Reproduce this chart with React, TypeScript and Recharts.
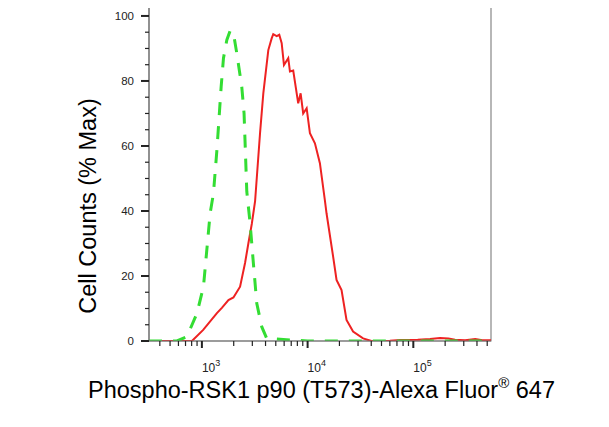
import { ComposedChart, Line, XAxis, YAxis, ReferenceArea, Label } from 'recharts';

// Flow histogram: isotype / unstained control (green dashed) vs stained sample (red)
const xDomain = [316, 543000];
const yDomain = [0, 104.6];

const controlX = [316, 581, 721, 897, 1035, 1197, 1286, 1387, 1521, 1600, 1722, 1851, 1988, 2139, 2384, 2506, 2659, 2858, 3070, 3304, 3681, 4102, 10000, 100000, 543000];
const controlY = [0, 0, 1.3, 8.5, 16.7, 39.3, 45.4, 58.8, 78.2, 87, 92.6, 95.5, 94.7, 88.5, 78.2, 70, 46, 36.2, 23.9, 11.6, 4.4, 0.8, 0, 0, 0];

const sampleX = [316, 805, 1029, 1387, 1545, 1783, 1988, 2297, 2560, 2751, 2964, 3186, 3548, 3811, 4249, 4571, 4732, 5101, 5395, 5686, 5975, 6561, 6806, 7311, 8150, 8590, 9085, 9795, 10520, 11730, 13070, 14550, 15100, 17450, 18780, 20940, 23340, 26920, 33470, 40180, 60000, 75100, 110000, 144000, 179000, 215000, 248000, 309000, 385000, 450000, 543000];
const sampleY = [0, 0, 3.4, 8.6, 10.2, 12.6, 13.4, 16.7, 24, 30, 36, 43, 63.9, 76.2, 89.5, 93.1, 94.4, 93.8, 94.2, 91.6, 84.9, 87, 82.9, 83.2, 73.1, 76.2, 70, 71.6, 63.9, 60.8, 54.7, 43.4, 39.3, 25.9, 18.8, 15.7, 6.5, 2.9, 0.8, 0, 0.1, 0.3, 0.4, 0.6, 0.9, 0.8, 0.4, 0.2, 0.6, 0.2, 0.2];

const xTicks = [400, 500, 600, 700, 800, 900, 1000, 2000, 3000, 4000, 5000, 6000, 7000, 8000, 9000, 10000, 20000, 30000, 40000, 50000, 60000, 70000, 80000, 90000, 100000, 200000, 300000, 400000, 500000];
const yTicks = [0, 5, 10, 15, 20, 25, 30, 35, 40, 45, 50, 55, 60, 65, 70, 75, 80, 85, 90, 95, 100];

const controlData = controlX.map((x, i) => ({ x, y: controlY[i] }));
const sampleData = sampleX.map((x, i) => ({ x, y: sampleY[i] }));

const FONT = 'Arial, "Liberation Sans", sans-serif';

const XTick = (props: any) => {
  const { x, y, payload } = props;
  const exp = Math.log10(payload.value);
  const major = Math.abs(exp - Math.round(exp)) < 1e-6;
  return (
    <g>
      <line x1={x} x2={x} y1={y} y2={y + (major ? 7 : 5)} stroke="#222" strokeWidth={major ? 2 : 1.2} />
      {major && (
        <text x={x} y={y + 31} fontFamily={FONT} fontSize={12} fill="#222" textAnchor="start">
          10
          <tspan dy={-6} fontSize={9}>{Math.round(exp)}</tspan>
        </text>
      )}
    </g>
  );
};

const YTick = (props: any) => {
  const { x, y, payload } = props;
  const major = payload.value % 20 === 0;
  return (
    <g>
      <line x1={x - (major ? 8 : 4)} x2={x} y1={y} y2={y} stroke="#222" strokeWidth={major ? 2 : 1.2} />
      {major && (
        <text x={x - 15} y={y + 4} fontFamily={FONT} fontSize={11.5} fill="#222" textAnchor="end">
          {payload.value}
        </text>
      )}
    </g>
  );
};

const XLabel = () => (
  <text x={88} y={398} fontFamily={FONT} fontSize={23.5} fill="#000" textAnchor="start">
    Phospho-RSK1 p90 (T573)-Alexa Fluor
    <tspan dy={-10} fontSize={15}>®</tspan>
    <tspan dy={10}> 647</tspan>
  </text>
);

const YLabel = () => (
  <text x={96} y={206} fontFamily={FONT} fontSize={23.5} fill="#000" textAnchor="middle" transform="rotate(-90, 96, 206)">
    Cell Counts (% Max)
  </text>
);

export default function App() {
  return (
    <div style={{ margin: -8, width: 609, height: 427, background: '#fff' }}>
      <ComposedChart width={609} height={427} margin={{ top: 1, right: 118, bottom: 56, left: 89 }}>
        <XAxis
          dataKey="x"
          type="number"
          scale="log"
          domain={xDomain}
          allowDataOverflow
          ticks={xTicks}
          interval={0}
          tick={<XTick />}
          tickLine={false}
          tickSize={0}
          tickMargin={0}
          height={30}
          axisLine={{ stroke: '#777', strokeWidth: 1.2 }}
        >
          <Label content={<XLabel />} />
        </XAxis>
        <YAxis
          type="number"
          domain={yDomain}
          allowDataOverflow
          ticks={yTicks}
          interval={0}
          tick={<YTick />}
          tickLine={false}
          tickSize={0}
          tickMargin={0}
          width={60}
          axisLine={{ stroke: '#777', strokeWidth: 1.2 }}
        >
          <Label content={<YLabel />} />
        </YAxis>
        <ReferenceArea x1={xDomain[0]} x2={xDomain[1]} y1={yDomain[0]} y2={yDomain[1]} fill="none" stroke="#888" strokeWidth={1.2} />
        <Line data={sampleData} dataKey="y" type="linear" stroke="#ee2222" strokeWidth={2} dot={false} isAnimationActive={false} />
        <Line data={controlData} dataKey="y" type="linear" stroke="#33dd33" strokeWidth={3} strokeDasharray="13 11" dot={false} isAnimationActive={false} />
      </ComposedChart>
    </div>
  );
}
